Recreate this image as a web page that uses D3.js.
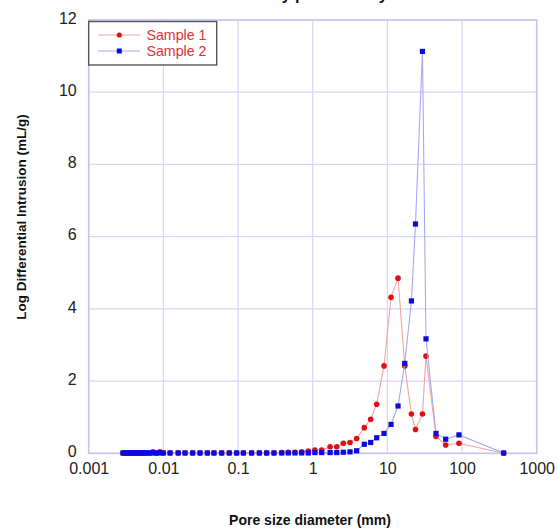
<!DOCTYPE html>
<html>
<head>
<meta charset="utf-8">
<script src="https://cdn.jsdelivr.net/npm/d3@7"></script>
<style>
  html, body { margin: 0; padding: 0; background: #fff; }
  svg { display: block; font-family: "Liberation Sans", Arial, Helvetica, sans-serif; }
</style>
</head>
<body>
<svg id="chart" width="558" height="529"></svg>
<script>
// Pore size diameter (shared by both series)
const poreSize = [0.00288, 0.00306, 0.00326, 0.00347, 0.00368, 0.00392, 0.00417, 0.00443, 0.00472, 0.00501,
  0.00534, 0.00567, 0.00604, 0.00662, 0.00726, 0.00809, 0.00901, 0.00998, 0.0123, 0.0158,
  0.0195, 0.0247, 0.0310, 0.0388, 0.0476, 0.0604, 0.0763, 0.0959, 0.118, 0.152,
  0.193, 0.242, 0.303, 0.385, 0.471, 0.579, 0.712, 0.873, 1.07, 1.32,
  1.71, 2.10, 2.57, 3.16, 3.88, 4.91, 5.98, 7.20, 9.02, 11.2,
  13.9, 17.1, 21.0, 23.8, 29.5, 32.9, 44.8, 60.4, 91.0, 361];
const sample1 = [0.01, 0.01, 0.01, 0.01, 0.01, 0.01, 0.01, 0.01, 0.01, 0.01,
  0.01, 0.01, 0.01, 0.01, 0.04, 0.01, 0.04, 0.01, 0.01, 0.01,
  0.01, 0.01, 0.01, 0.01, 0.01, 0.01, 0.01, 0.01, 0.01, 0.01,
  0.01, 0.01, 0.01, 0.02, 0.03, 0.03, 0.04, 0.06, 0.09, 0.09,
  0.18, 0.18, 0.28, 0.30, 0.41, 0.71, 0.94, 1.36, 2.42, 4.32,
  4.85, 2.42, 1.09, 0.66, 1.09, 2.69, 0.47, 0.23, 0.28, 0.0];
const sample2 = [0.01, 0.01, 0.01, 0.01, 0.01, 0.01, 0.01, 0.01, 0.01, 0.01,
  0.01, 0.01, 0.01, 0.01, 0.01, 0.01, 0.01, 0.01, 0.01, 0.01,
  0.01, 0.01, 0.01, 0.01, 0.01, 0.01, 0.01, 0.01, 0.01, 0.01,
  0.01, 0.01, 0.01, 0.01, 0.01, 0.01, 0.01, 0.01, 0.02, 0.02,
  0.02, 0.02, 0.03, 0.04, 0.07, 0.25, 0.30, 0.43, 0.55, 0.80,
  1.31, 2.49, 4.22, 6.35, 11.13, 3.17, 0.55, 0.39, 0.51, 0.01];
const seriesNames = ["Sample 1", "Sample 2"];
const xTicks = [0.001, 0.01, 0.1, 1, 10, 100, 1000];
const xTickLabels = ["0.001", "0.01", "0.1", "1", "10", "100", "1000"];
const yTicks = [0, 2, 4, 6, 8, 10, 12];

const svg = d3.select("#chart");
const plotLeft = 88.7, plotRight = 536.7, plotTop = 20, plotBottom = 453.3;

const x = d3.scaleLog().domain([0.001, 1000]).range([plotLeft, plotRight]);
const y = d3.scaleLinear().domain([0, 12]).range([plotBottom, plotTop]);

// title (mostly clipped above the image)
svg.append("text").attr("x", 308).attr("y", -0.5).attr("text-anchor", "middle")
  .attr("font-size", 16).attr("font-weight", "bold").attr("fill", "#111")
  .text("Mercury porosimetry");

// grid
const grid = svg.append("g");
grid.selectAll("line.v").data(xTicks.slice(1, -1)).join("line")
  .attr("x1", d => x(d)).attr("x2", d => x(d)).attr("y1", plotTop).attr("y2", plotBottom)
  .attr("stroke", "#d6d6f7").attr("stroke-width", 1.2);
grid.selectAll("line.h").data(yTicks.slice(1, -1)).join("line")
  .attr("x1", plotLeft).attr("x2", plotRight).attr("y1", d => y(d)).attr("y2", d => y(d))
  .attr("stroke", "#d6d6f7").attr("stroke-width", 1.2);
// frame
svg.append("rect").attr("x", plotLeft).attr("y", plotTop).attr("width", plotRight - plotLeft).attr("height", plotBottom - plotTop)
  .attr("fill", "none").attr("stroke", "#c2c2f3").attr("stroke-width", 1.6);

// axes (labels only)
const xAxis = d3.axisBottom(x).tickValues(xTicks).tickFormat((d, i) => xTickLabels[i]).tickSize(0).tickPadding(9);
const gx = svg.append("g").attr("transform", `translate(0,${plotBottom})`).call(xAxis);
gx.select(".domain").remove();
gx.selectAll("text").attr("font-size", 16).attr("fill", "#222").attr("font-family", "Liberation Sans, Arial, sans-serif");

const yAxis = d3.axisLeft(y).tickValues(yTicks).tickFormat(d3.format("d")).tickSize(0).tickPadding(12);
const gy = svg.append("g").attr("transform", `translate(${plotLeft},0)`).call(yAxis);
gy.select(".domain").remove();
gy.selectAll("text").attr("font-size", 16).attr("fill", "#222").attr("font-family", "Liberation Sans, Arial, sans-serif")
  .attr("dy", "0.2em");

// axis titles
svg.append("text").attr("transform", "translate(26,217) rotate(-90)").attr("text-anchor", "middle")
  .attr("font-size", 13.5).attr("font-weight", "bold").attr("fill", "#111")
  .text("Log Differential Intrusion (mL/g)");
svg.append("text").attr("x", 310).attr("y", 525).attr("text-anchor", "middle")
  .attr("font-size", 14).attr("font-weight", "bold").attr("fill", "#111")
  .text("Pore size diameter (mm)");

// series
const line = d3.line().x(d => x(d[0])).y(d => y(d[1]));
const d1 = poreSize.map((p, i) => [p, sample1[i]]);
const d2 = poreSize.map((p, i) => [p, sample2[i]]);

svg.append("path").datum(d1).attr("d", line).attr("fill", "none").attr("stroke", "#f2a4a4").attr("stroke-width", 1.1);
svg.append("g").selectAll("circle").data(d1).join("circle")
  .attr("cx", d => x(d[0])).attr("cy", d => y(d[1])).attr("r", 2.8).attr("fill", "#e01010");

svg.append("path").datum(d2).attr("d", line).attr("fill", "none").attr("stroke", "#a8a8f2").attr("stroke-width", 1.1);
svg.append("g").selectAll("rect").data(d2).join("rect")
  .attr("x", d => x(d[0]) - 2.6).attr("y", d => y(d[1]) - 2.6).attr("width", 5.2).attr("height", 5.2)
  .attr("fill", "#0a0ae0");

// legend
const lg = svg.append("g");
lg.append("rect").attr("x", 88.7).attr("y", 21.5).attr("width", 128).attr("height", 43.5)
  .attr("fill", "#fff").attr("stroke", "#555").attr("stroke-width", 1.4);
const legendColors = [["#f2a4a4", "#e01010"], ["#a8a8f2", "#0a0ae0"]];
seriesNames.forEach((name, i) => {
  const ly = 35 + i * 16;
  lg.append("line").attr("x1", 98).attr("x2", 140).attr("y1", ly).attr("y2", ly)
    .attr("stroke", legendColors[i][0]).attr("stroke-width", 1.1);
  if (i === 0) {
    lg.append("circle").attr("cx", 119.3).attr("cy", ly).attr("r", 2.6).attr("fill", legendColors[i][1]);
  } else {
    lg.append("rect").attr("x", 119.3 - 2.5).attr("y", ly - 2.5).attr("width", 5).attr("height", 5).attr("fill", legendColors[i][1]);
  }
  lg.append("text").attr("x", 146.5).attr("y", ly + 5).attr("font-size", 14.2).attr("fill", "#e23030")
    .text(name);
});
</script>
</body>
</html>
